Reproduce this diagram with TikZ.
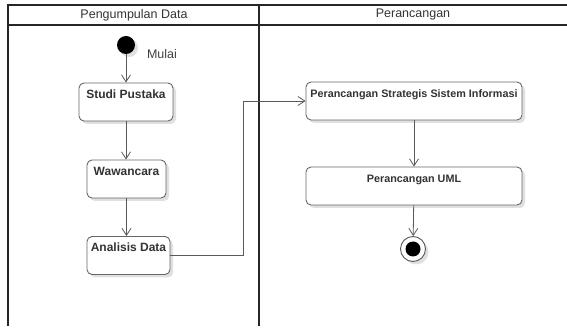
\documentclass[tikz,border=0pt]{standalone}
\usepackage{fontspec}
\setmainfont{Liberation Sans}
\usetikzlibrary{positioning, arrows.meta, shadows}

\tikzset{
    act/.style={draw=black!60, fill=white, rounded corners=5pt, line width=0.9pt,
        inner xsep=2pt, inner ysep=0pt, text height=15.5pt, text depth=22.5pt,
        text=black!80, font=\bfseries\fontsize{12}{14}\selectfont,
        drop shadow={shadow xshift=3pt, shadow yshift=-3pt, fill=black!12, opacity=1}},
    flow/.style={draw=black!65, line width=0.8pt, ->},
    lane/.style={draw=black!85, line width=1.5pt},
}

\begin{document}
\begin{tikzpicture}[x=1pt, y=-1pt, >={Straight Barb[length=7pt, width=9pt]}]
            \useasboundingbox (0,0) rectangle (567,328);

            % swimlanes
            \draw[lane] (8,326) -- (8,5) -- (567,5);
            \draw[lane] (8,25) -- (567,25);
            \draw[lane] (259,5) -- (259,326);
            \node[text=black!80, font=\fontsize{12.5}{14}\selectfont] (laneA) at (134,15) {Pengumpulan Data};
            \node[text=black!80, font=\fontsize{12.5}{14}\selectfont] (laneB) at (413,15) {Perancangan};

            % start
            \node[circle, fill=black, minimum size=18pt, inner sep=0pt,
                drop shadow={shadow xshift=3pt, shadow yshift=-3pt, fill=black!12, opacity=1}] (start) at (126,45) {};
            \node[text=black!75, font=\fontsize{12.5}{14}\selectfont] (mulai) at (162,54) {Mulai};

            % activities
            \node[act, minimum width=94pt] (studi) at (126,102) {Studi Pustaka};
            \node[act, minimum width=79pt] (wawan) at (126.5,179) {Wawancara};
            \node[act, minimum width=83pt] (analisis) at (128.5,255.5) {Analisis Data};
            \node[act, minimum width=216pt, font=\bfseries\fontsize{10.8}{13}\selectfont] (strategis) at (414,101)
                {Perancangan Strategis Sistem Informasi};
            \node[act, minimum width=216pt, font=\bfseries\fontsize{10.8}{13}\selectfont] (uml) at (414,186)
                {Perancangan UML};

            % end
            \node[circle, draw=black!65, fill=white, line width=0.9pt, minimum size=25pt, inner sep=0pt,
                drop shadow={shadow xshift=3pt, shadow yshift=-3pt, fill=black!12, opacity=1}] (end) at (413,249) {};
            \fill[black] (end.center) circle (7.5pt);

            % flows
            \coordinate (bend) at (243,101);
            \draw[flow] (start) -- (start |- studi.north);
            \draw[flow] (studi) -- (studi |- wawan.north);
            \draw[flow] (wawan) -- (wawan |- analisis.north);
            \draw[flow] (analisis.east) -| (bend) -- (strategis.west);
            \draw[flow] (strategis) -- (strategis |- uml.north);
            \draw[flow] (uml) -- (end);
\end{tikzpicture}
\end{document}
